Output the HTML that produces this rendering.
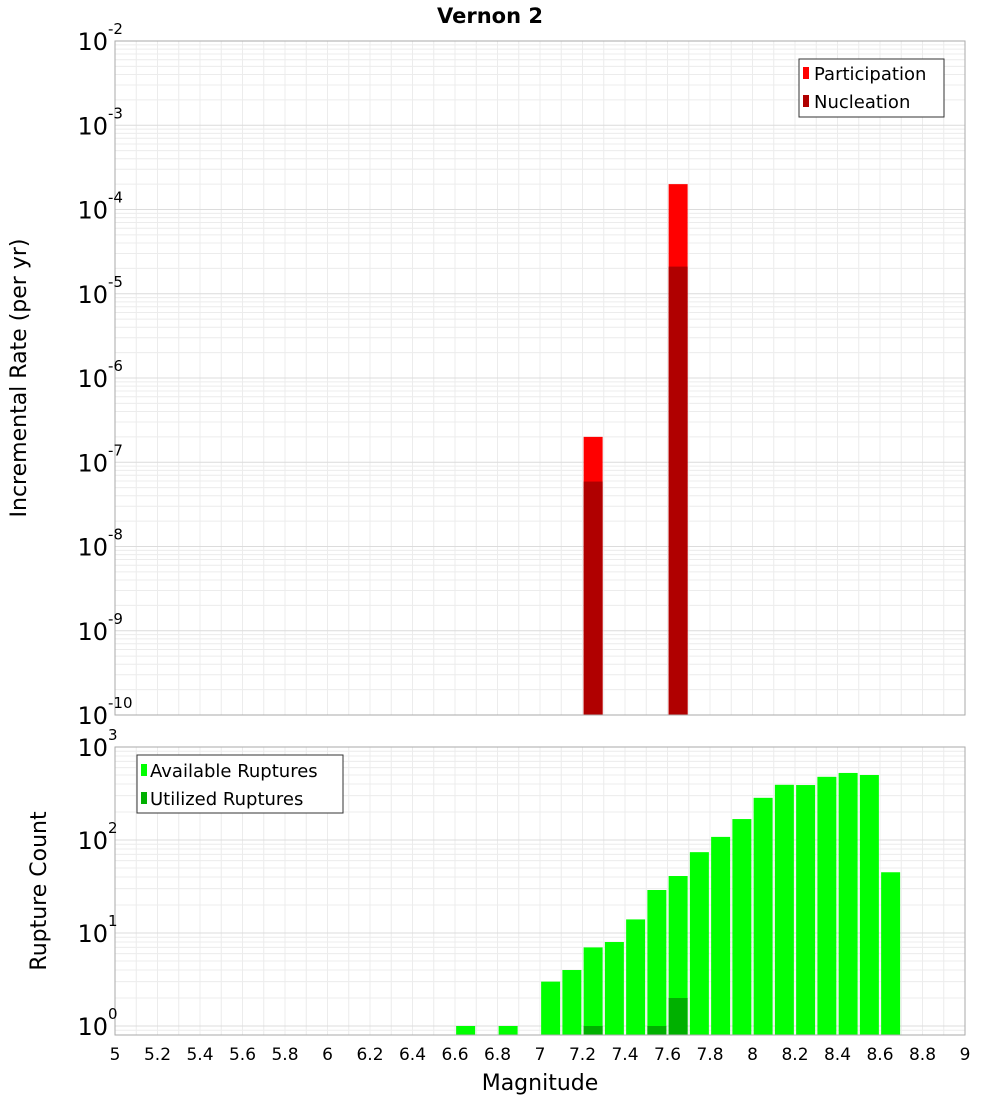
<!DOCTYPE html>
<html><head><meta charset="utf-8"><style>
body{margin:0;background:#fff;font-family:"Liberation Sans","DejaVu Sans",sans-serif}
svg text{font-family:"DejaVu Sans","Liberation Sans",sans-serif}
</style></head><body>
<svg id="chart" width="1000" height="1100" xmlns="http://www.w3.org/2000/svg">
<text x="490" y="23" text-anchor="middle" font-size="21" font-weight="bold">Vernon 2</text>
<g id="topPlot"></g>
<g id="botPlot"></g>
<text transform="translate(26,378) rotate(-90)" text-anchor="middle" font-size="22">Incremental Rate (per yr)</text>
<text transform="translate(46,891) rotate(-90)" text-anchor="middle" font-size="22">Rupture Count</text>
<text x="540" y="1090" text-anchor="middle" font-size="22">Magnitude</text>
<g>
<rect x="799" y="59" width="145" height="58" fill="#fff" stroke="#333"/>
<rect x="803" y="67" width="6" height="12" fill="#ff0000"/>
<text x="814" y="80" font-size="18">Participation</text>
<rect x="803" y="95" width="6" height="12" fill="#b00000"/>
<text x="814" y="108" font-size="18">Nucleation</text>
</g>
<g>
<rect x="137" y="755" width="206" height="58" fill="#fff" stroke="#333"/>
<rect x="141" y="764" width="6" height="12" fill="#00ff00"/>
<text x="150" y="777" font-size="18">Available Ruptures</text>
<rect x="141" y="792" width="6" height="12" fill="#00b000"/>
<text x="150" y="805" font-size="18">Utilized Ruptures</text>
</g>
</svg>
<script>
const rateMags=[7.25,7.65];
const participation=[2.0e-7,2.0e-4];
const nucleation=[5.9e-8,2.1e-5];
const countMags=[6.65,6.85,7.05,7.15,7.25,7.35,7.45,7.55,7.65,7.75,7.85,7.95,8.05,8.15,8.25,8.35,8.45,8.55,8.65];
const available=[1,1,3,4,7,8,14,29,41,74,108,168,284,392,390,478,526,500,45];
const utilizedMags=[7.25,7.55,7.65];
const utilized=[1,1,2];
const xTicks=[5,5.2,5.4,5.6,5.8,6,6.2,6.4,6.6,6.8,7,7.2,7.4,7.6,7.8,8,8.2,8.4,8.6,8.8,9];
const topExp=[-2,-3,-4,-5,-6,-7,-8,-9,-10];
const botExp=[0,1,2,3];
const NS="http://www.w3.org/2000/svg";
const X0=115,X1=965;
const xs=m=>X0+(m-5)/4*(X1-X0);
const topY=v=>41+(-2-Math.log10(v))*84.25;
const botY=v=>1026-Math.log10(v)*93;
function el(p,t,a){const e=document.createElementNS(NS,t);for(const k in a)e.setAttribute(k,a[k]);p.appendChild(e);return e;}
const topG=document.getElementById('topPlot'),botG=document.getElementById('botPlot');
function grid(g,yT,yB,yf,emin,emax){
  for(let i=0;i<=40;i++){const m=5+i*0.1;const l=el(g,'line',{x1:xs(m),x2:xs(m),y1:yT,y2:yB,stroke:'#ececec'});}
  for(let e=emin;e<emax;e++)for(let k=1;k<10;k++){const y=yf(k*Math.pow(10,e));if(y<yT-0.5||y>yB+0.5)continue;const l=el(g,'line',{x1:X0,x2:X1,y1:y,y2:y,stroke:k==1?'#dcdcdc':'#ececec'});}
}
grid(topG,41,715,topY,-10,-1);
grid(botG,747,1035,botY,-1,3);
const bw=19;
rateMags.forEach((m,i)=>{
  let r=el(topG,'rect',{x:xs(m)-bw/2,y:topY(participation[i]),width:bw,height:715-topY(participation[i]),fill:'#ff0000'});
  
  r=el(topG,'rect',{x:xs(m)-bw/2,y:topY(nucleation[i]),width:bw,height:715-topY(nucleation[i]),fill:'#b00000'});
  
});
countMags.forEach((m,i)=>{
  const r=el(botG,'rect',{x:xs(m)-bw/2,y:botY(available[i]),width:bw,height:1035-botY(available[i]),fill:'#00ff00'});
  
});
utilizedMags.forEach((m,i)=>{
  const r=el(botG,'rect',{x:xs(m)-bw/2,y:botY(utilized[i]),width:bw,height:1035-botY(utilized[i]),fill:'#00b000'});
  
});
el(topG,'rect',{x:X0,y:41,width:X1-X0,height:674,fill:'none',stroke:'#aaa'});
el(botG,'rect',{x:X0,y:747,width:X1-X0,height:288,fill:'none',stroke:'#aaa'});
function ylab(g,e,y){
  const t=el(g,'text',{x:108,y:y+9,'text-anchor':'end','font-size':24});
  
  t.textContent='10';
  const s=el(g,'text',{x:108,y:y-7,'font-size':15,'text-anchor':'start'});
  
  s.textContent=String(e);
}
topExp.forEach(e=>ylab(topG,e,topY(Math.pow(10,e))));
botExp.forEach(e=>ylab(botG,e,botY(Math.pow(10,e))));
xTicks.forEach(v=>{
  const t=el(botG,'text',{x:xs(v),y:1060,'text-anchor':'middle','font-size':17});
  
  t.textContent=String(v);
});
</script>
</body></html>
